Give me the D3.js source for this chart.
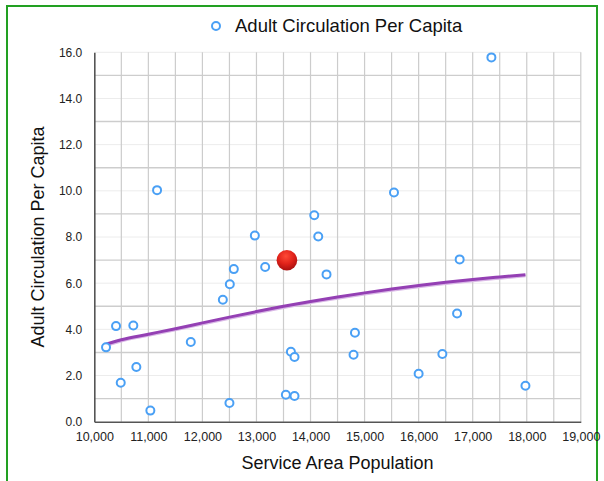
<!DOCTYPE html>
<html>
<head>
<meta charset="utf-8">
<script src="https://cdn.jsdelivr.net/npm/d3@7"></script>
<style>
  html, body { margin: 0; padding: 0; background: #fff; }
  svg { display: block; font-family: "Liberation Sans", Arial, Helvetica, sans-serif; }
</style>
</head>
<body>
<script>
// ---- data ----
const populations = [10217, 10402, 10489, 10722, 10778, 11037, 11161, 11785, 12378, 12507,
  12500, 12581, 12970, 13161, 13544, 13637, 13704, 13704, 14069, 14143, 14296, 14822,
  14796, 15544, 16000, 16439, 16711, 16759, 17346, 17976];
const circulation = [3.22, 4.14, 1.69, 4.17, 2.37, 0.48, 10.03, 3.45, 5.28, 5.95,
  0.81, 6.61, 8.06, 6.70, 1.17, 3.03, 2.80, 1.11, 8.94, 8.02, 6.38, 3.85,
  2.90, 9.93, 2.08, 2.93, 4.69, 7.03, 15.78, 1.56];
const highlightPopulation = [13563];
const highlightCirculation = [6.99];
const trendX = [10217, 10500, 11000, 11500, 12000, 12500, 13000, 13500, 14000, 14500,
  15000, 15500, 16000, 16500, 17000, 17500, 17976];
const trendY = [3.36, 3.55, 3.79, 4.03, 4.28, 4.53, 4.77, 5.00, 5.21, 5.40,
  5.58, 5.75, 5.90, 6.04, 6.16, 6.27, 6.37];
const xTicks = [10000, 11000, 12000, 13000, 14000, 15000, 16000, 17000, 18000, 19000];
const yTicks = [0, 2, 4, 6, 8, 10, 12, 14, 16];
const seriesName = "Adult Circulation Per Capita";
const xTitle = "Service Area Population";
const yTitle = "Adult Circulation Per Capita";

// ---- drawing ----
const W = 604, H = 481;
const svg = d3.select("body").append("svg").attr("width", W).attr("height", H);

// green frame
svg.append("rect").attr("x", 7).attr("y", 6).attr("width", 590).attr("height", 490)
  .attr("fill", "none").attr("stroke", "#22a022").attr("stroke-width", 2);

const pLeft = 94.3, pRight = 580.8, pTop = 52.3, pBottom = 421.7;
const x = d3.scaleLinear().domain([10000, 19000]).range([pLeft, pRight]);
const y = d3.scaleLinear().domain([0, 16]).range([pBottom, pTop]);

const grid = svg.append("g");
// horizontal grid lines: every 1 unit, odd darker
d3.range(1, 17).forEach(v => {
  grid.append("line").attr("x1", pLeft).attr("x2", pRight)
    .attr("y1", y(v)).attr("y2", y(v))
    .attr("stroke", v % 2 === 1 ? "#cdcdcd" : "#ececec")
    .attr("stroke-width", v % 2 === 1 ? 1.4 : 1);
});
// vertical grid lines every 500
d3.range(10500, 19001, 500).forEach(v => {
  grid.append("line").attr("x1", x(v)).attr("x2", x(v))
    .attr("y1", pTop).attr("y2", pBottom)
    .attr("stroke", "#cccccc").attr("stroke-width", 1.2);
});

// axes
const xAxis = d3.axisBottom(x).tickValues(xTicks).tickSize(0).tickPadding(10)
  .tickFormat(d3.format(","));
const gx = svg.append("g").attr("transform", `translate(0,${pBottom})`).call(xAxis);
gx.select(".domain").attr("stroke", "#555").attr("stroke-width", 1.6);
gx.selectAll("text").attr("font-size", 12.5).attr("fill", "#222")
  .attr("font-family", "Liberation Sans, Arial, sans-serif");

const yAxis = d3.axisLeft(y).tickValues(yTicks).tickSize(0).tickPadding(12)
  .tickFormat(d3.format(".1f"));
const gy = svg.append("g").attr("transform", `translate(${pLeft},0)`).call(yAxis);
gy.select(".domain").attr("stroke", "#555").attr("stroke-width", 1.6);
gy.selectAll("text").attr("font-size", 12).attr("fill", "#222")
  .attr("font-family", "Liberation Sans, Arial, sans-serif");

// trend line
const line = d3.line().x(d => x(d[0])).y(d => y(d[1])).curve(d3.curveMonotoneX);
const trend = trendX.map((v, i) => [v, trendY[i]]);
svg.append("path").datum(trend).attr("d", line).attr("fill", "none")
  .attr("stroke", "#d9b8e6").attr("stroke-width", 3).attr("transform", "translate(0,1.2)");
svg.append("path").datum(trend).attr("d", line).attr("fill", "none")
  .attr("stroke", "#9440b4").attr("stroke-width", 3);

// points
const pts = populations.map((v, i) => [v, circulation[i]]);
svg.append("g").selectAll("circle").data(pts).join("circle")
  .attr("cx", d => x(d[0])).attr("cy", d => y(d[1])).attr("r", 4)
  .attr("fill", "#fff").attr("stroke", "#4aa0f5").attr("stroke-width", 2);

// highlight point
const defs = svg.append("defs");
const grad = defs.append("radialGradient").attr("id", "redball")
  .attr("cx", "45%").attr("cy", "30%").attr("r", "70%");
grad.append("stop").attr("offset", "0%").attr("stop-color", "#ff4a36");
grad.append("stop").attr("offset", "55%").attr("stop-color", "#e0221a");
grad.append("stop").attr("offset", "100%").attr("stop-color", "#a81010");
svg.append("g").selectAll("circle")
  .data(highlightPopulation.map((v, i) => [v, highlightCirculation[i]])).join("circle")
  .attr("cx", d => x(d[0])).attr("cy", d => y(d[1])).attr("r", 10.3)
  .attr("fill", "url(#redball)");

// legend
svg.append("circle").attr("cx", 216).attr("cy", 26).attr("r", 4)
  .attr("fill", "#fff").attr("stroke", "#4aa0f5").attr("stroke-width", 2);
svg.append("text").attr("x", 235).attr("y", 32).attr("font-size", 18.5)
  .attr("fill", "#111").text(seriesName);

// axis titles
svg.append("text").attr("x", (pLeft + pRight) / 2).attr("y", 469).attr("text-anchor", "middle")
  .attr("font-size", 18).attr("fill", "#111").text(xTitle);
svg.append("text").attr("transform", `translate(44,${(pTop + pBottom) / 2}) rotate(-90)`)
  .attr("text-anchor", "middle").attr("font-size", 18).attr("fill", "#111").text(yTitle);
</script>
</body>
</html>
